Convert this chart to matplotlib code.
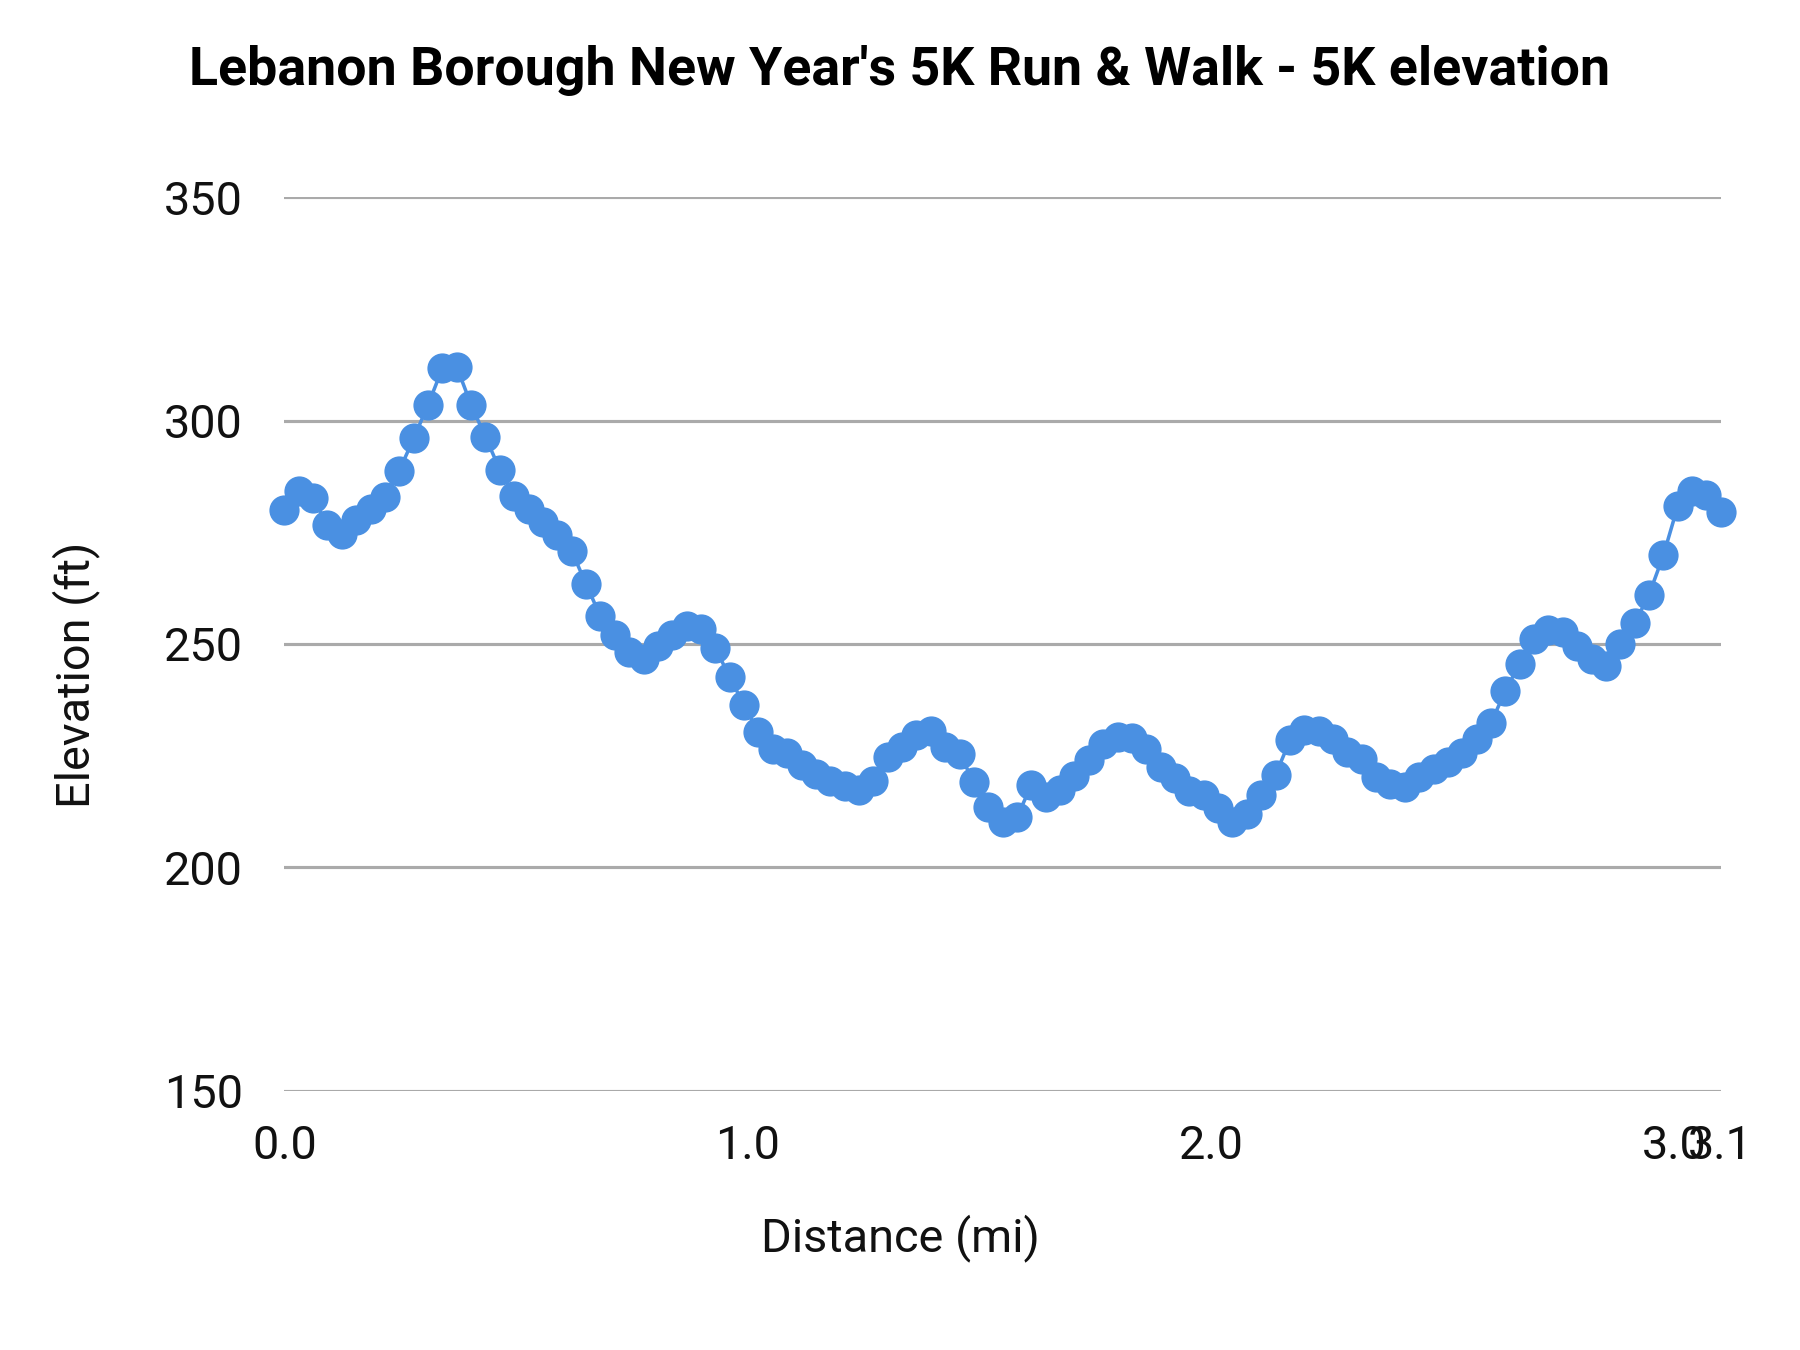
import numpy as np
import matplotlib
matplotlib.use('Agg')
import matplotlib.pyplot as plt

# elevation profile (ft), roughly every 0.031 mi
elevation = [280, 284.2, 282.6, 276.7, 274.7, 277.8, 280.3, 282.9, 288.8, 296,
             303.5, 311.7, 312, 303.5, 296.3, 289, 283.2, 280.3, 277.2, 274.4,
             270.8, 263.4, 256.2, 252.1, 248.2, 246.7, 249.5, 252.1, 254.1, 253.3,
             249.2, 242.5, 236.4, 230.2, 226.6, 225.6, 223, 221, 219.4, 218.1,
             217.3, 219.4, 224.6, 226.9, 229.7, 230.5, 226.9, 225.3, 219.2, 213.5,
             210.2, 211.2, 218.4, 215.8, 217.3, 220.4, 224, 227.6, 229.2, 228.9,
             226.4, 222.5, 219.9, 217.1, 216.3, 213.2, 210.2, 212, 216.3, 220.7,
             228.4, 230.7, 230.5, 228.7, 225.8, 224.3, 220.2, 218.6, 217.9, 220.2,
             222, 223.5, 225.6, 228.7, 232.3, 239.5, 245.6, 251, 253.1, 252.6,
             249.5, 246.7, 245.1, 250, 254.6, 261, 269.8, 280.8, 284.2, 283.4,
             279.6]
total_miles = 3.1
distance = np.linspace(0, total_miles, len(elevation))

x_ticks = [0, 1, 2, 3, 3.1]
x_labels = ['0.0', '1.0', '2.0', '3.0', '3.1']
y_ticks = [150, 200, 250, 300, 350]

plt.rcParams['font.family'] = ['Roboto', 'DejaVu Sans']

fig = plt.figure(figsize=(12, 9), dpi=150)
ax = fig.add_axes([0.158, 0.192, 0.798, 0.662])

ax.plot(distance, elevation, color='#4a90e2', linewidth=1.7,
        marker='o', markersize=13.5, clip_on=False, zorder=3)

ax.set_xlim(0, total_miles)
ax.set_ylim(150, 350)
ax.set_xticks(x_ticks)
ax.set_xticklabels(x_labels)
ax.set_yticks(y_ticks)
ax.grid(axis='y', color='#aaaaaa', linewidth=1.5)
ax.set_axisbelow(True)
for s in ax.spines.values():
    s.set_visible(False)
ax.tick_params(axis='both', length=0, labelsize=22.5, colors='#111111')
ax.tick_params(axis='y', pad=20)
ax.tick_params(axis='x', pad=16)

fig.text(0.5, 0.948, "Lebanon Borough New Year's 5K Run & Walk - 5K elevation",
         ha='center', va='center', fontsize=25.8, fontweight='bold')
fig.text(0.5, 0.083, 'Distance (mi)', ha='center', va='center', fontsize=22.5, color='#111111')
fig.text(0.042, 0.5, 'Elevation (ft)', ha='center', va='center', rotation=90,
         fontsize=22.5, color='#111111')

plt.savefig('out.png', dpi=150)
